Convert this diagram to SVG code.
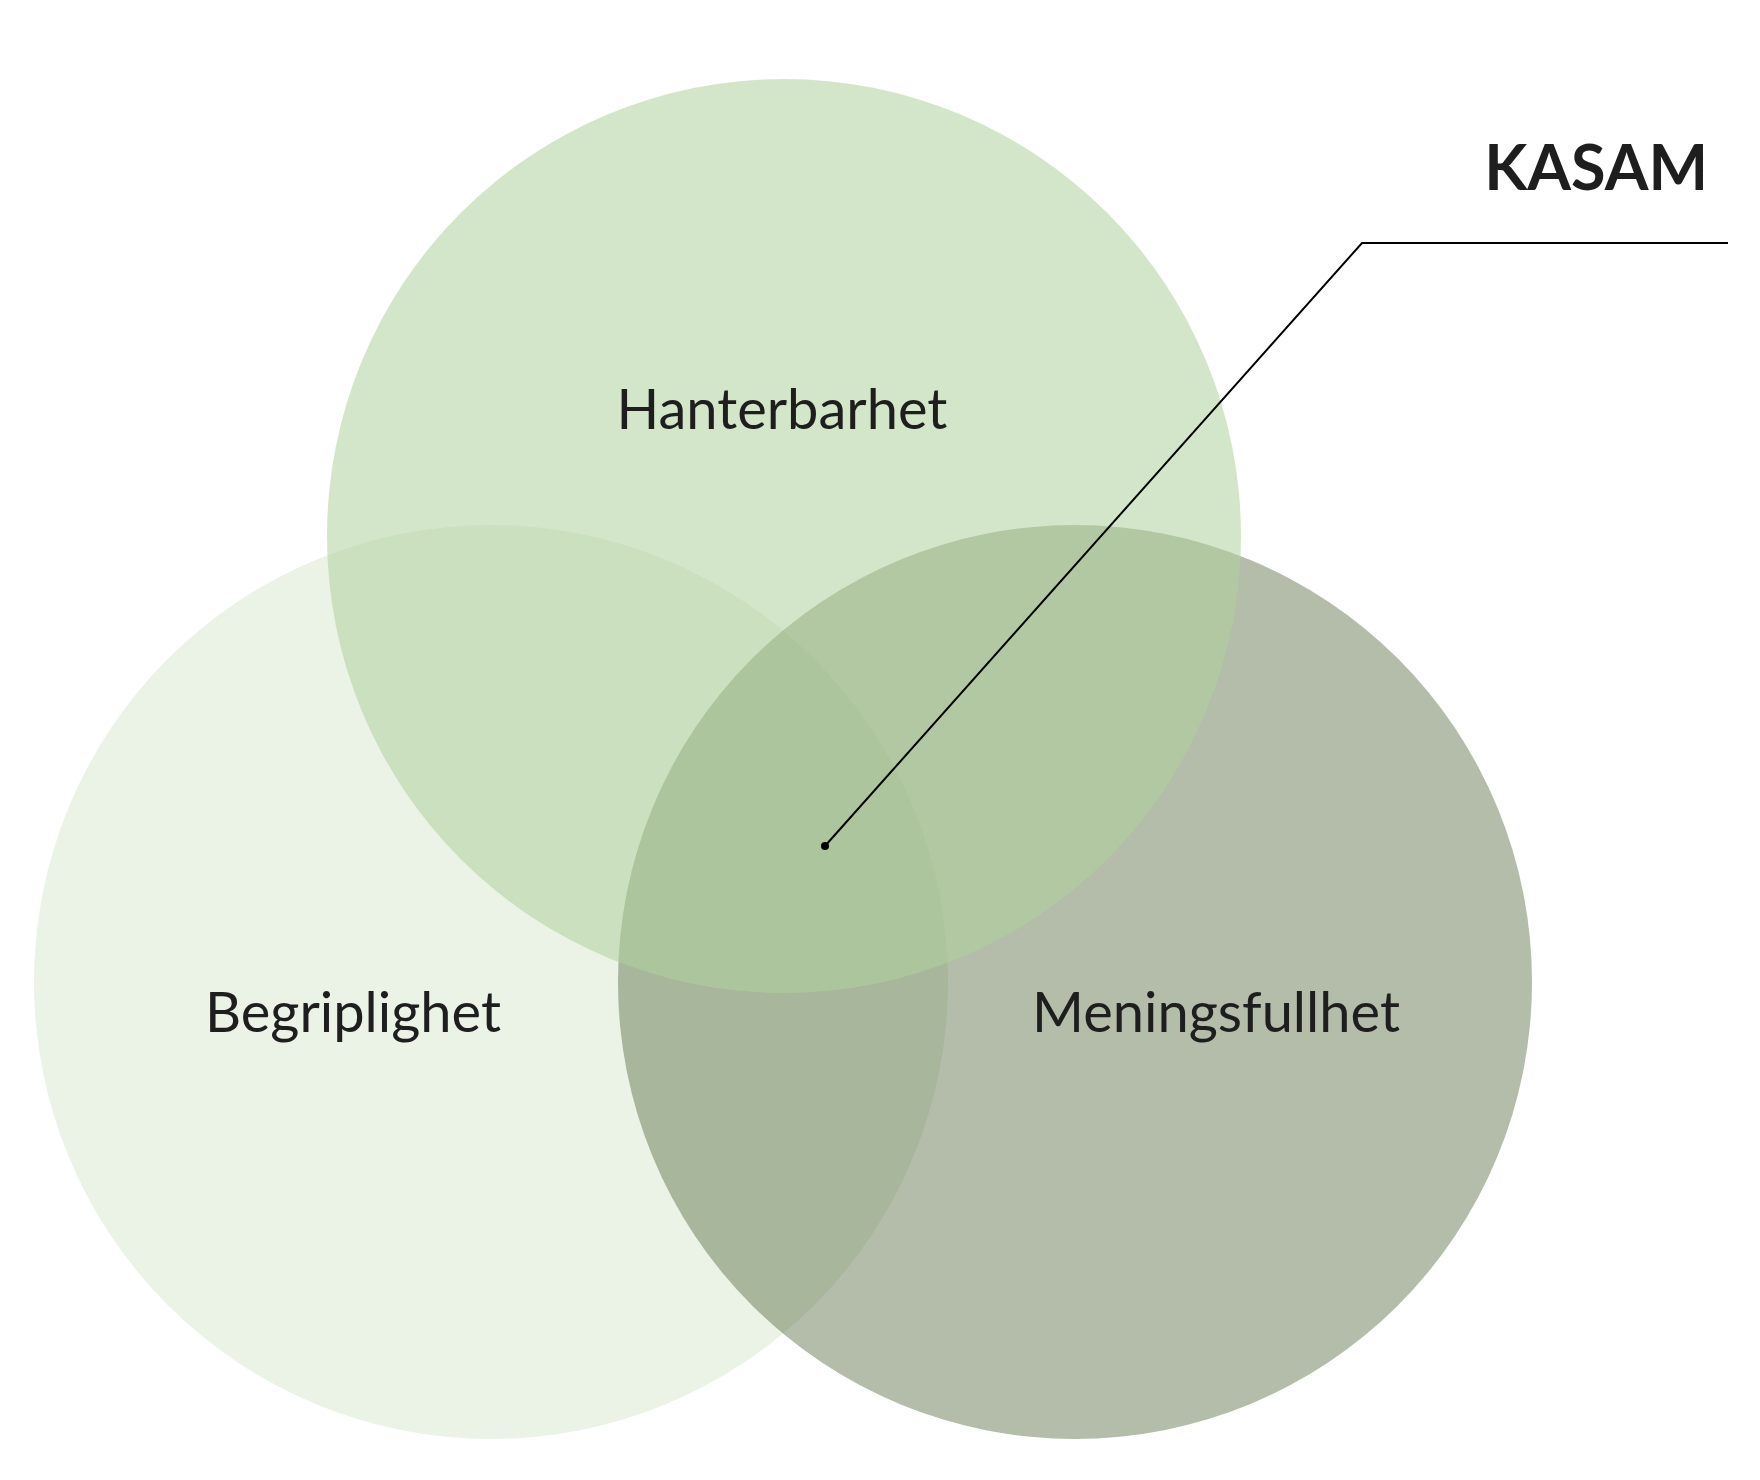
<svg xmlns="http://www.w3.org/2000/svg" width="1760" height="1480" viewBox="0 0 1760 1480">
<style>
.lbl{font-family:"Lato","Liberation Sans",sans-serif;font-size:56px;fill:#1e1e1e;text-anchor:middle}
</style>
<rect width="1760" height="1480" fill="#fff"/>
<g id="begriplighet"><circle cx="491" cy="982" r="457" fill="#ebf2e6"/><text class="lbl" x="353" y="1032">Begriplighet</text></g>
<g id="meningsfullhet"><circle cx="1075" cy="982" r="457" fill="#566c42" fill-opacity="0.45"/></g>
<g id="hanterbarhet"><circle cx="784" cy="536" r="457" fill="#b0d19c" fill-opacity="0.55"/><text class="lbl" x="782" y="429">Hanterbarhet</text></g>
<text class="lbl" x="1216" y="1032">Meningsfullhet</text>
<g id="connectors"><polyline points="825,846 1362,243 1728,243" fill="none" stroke="#000" stroke-width="2"/><circle cx="825" cy="846" r="4" fill="#000"/></g>
<g id="kasam"><text x="1708" y="190" text-anchor="end" font-family="Lato,'Liberation Sans',sans-serif" font-weight="bold" font-size="63" fill="#1e1e1e">KASAM</text></g>
</svg>
